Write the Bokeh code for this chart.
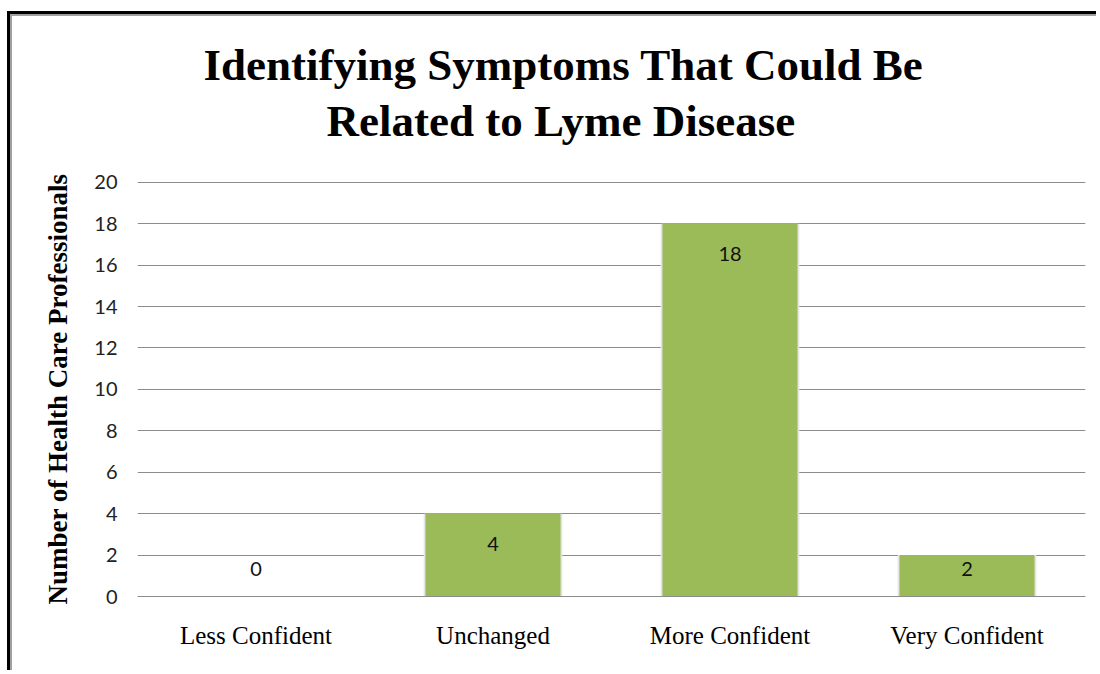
from bokeh.plotting import figure
from bokeh.layouts import column
from bokeh.models import FactorRange, Range1d, SingleIntervalTicker, Title, ColumnDataSource
from bokeh.embed import file_html
from bokeh.resources import INLINE

categories = ["Less Confident", "Unchanged", "More Confident", "Very Confident"]
counts = [0, 4, 18, 2]
y_ticks_interval = 2
title_lines = ["Identifying Symptoms That Could Be", "Related to Lyme Disease"]
y_label = "Number of Health Care Professionals"

label_y = [max(v - 1.45, 1.35) for v in counts]
src = ColumnDataSource(dict(cat=categories, val=counts, ly=label_y, txt=[str(v) for v in counts]))

p = figure(x_range=FactorRange(*categories, range_padding=0), y_range=Range1d(0, 20.04),
           width=1086, height=656, output_backend="svg", toolbar_location=None,
           min_border_left=125, min_border_right=13, min_border_bottom=76, min_border_top=165,
           styles={"border-left": "2px solid #a0a0a0", "border-top": "2px solid #a0a0a0"})

# spacer closest to the plot, then the two title lines
p.add_layout(Title(text=" ", text_font_size="20px", standoff=10), "above")
p.add_layout(Title(text=title_lines[1], align="left", offset=189, text_font="Liberation Serif",
                   text_font_size="45px", text_font_style="bold", text_color="#000000", standoff=3), "above")
p.add_layout(Title(text=title_lines[0], align="left", offset=66, text_font="Liberation Serif",
                   text_font_size="45px", text_font_style="bold", text_color="#000000", standoff=5), "above")

p.vbar(x="cat", top="val", width=0.585, source=src, fill_color="#e4e4e4", line_color=None)
p.vbar(x="cat", top="val", width=0.57, source=src, fill_color="#9BBB59", line_color=None)
p.text(x="cat", y="ly", text="txt", source=src, text_align="center", text_baseline="middle",
       text_font_size="20px", text_font={"value": "Lato"}, text_color="#111111")

p.outline_line_color = None
p.background_fill_color = "white"
p.border_fill_color = "white"

p.xgrid.grid_line_color = None
p.ygrid.grid_line_color = "#8c8c8c"
p.ygrid.grid_line_width = 1

p.yaxis.ticker = SingleIntervalTicker(interval=y_ticks_interval)
p.yaxis.axis_line_color = None
p.yaxis.major_tick_line_color = None
p.yaxis.minor_tick_line_color = None
p.yaxis.major_label_text_font = "Lato"
p.yaxis.major_label_text_font_size = "20px"
p.yaxis.major_label_text_color = "#222222"
p.yaxis.major_label_standoff = 14
p.yaxis.axis_label = y_label
p.yaxis.axis_label_text_font = "Liberation Serif"
p.yaxis.axis_label_text_font_size = "27px"
p.yaxis.axis_label_text_font_style = "bold"
p.yaxis.axis_label_text_color = "#000000"
p.yaxis.axis_label_standoff = 18

p.xaxis.axis_line_color = "#8c8c8c"
p.xaxis.major_tick_line_color = None
p.xaxis.minor_tick_line_color = None
p.xaxis.major_label_text_font = "Liberation Serif"
p.xaxis.major_label_text_font_size = "25px"
p.xaxis.major_label_text_color = "#000000"
p.xaxis.major_label_standoff = 19

layout = column(p, styles={"margin-left": "7px", "margin-top": "11px",
                           "border-left": "3px solid #000", "border-top": "3px solid #000"})

open("out.html", "w").write(file_html(layout, INLINE))
